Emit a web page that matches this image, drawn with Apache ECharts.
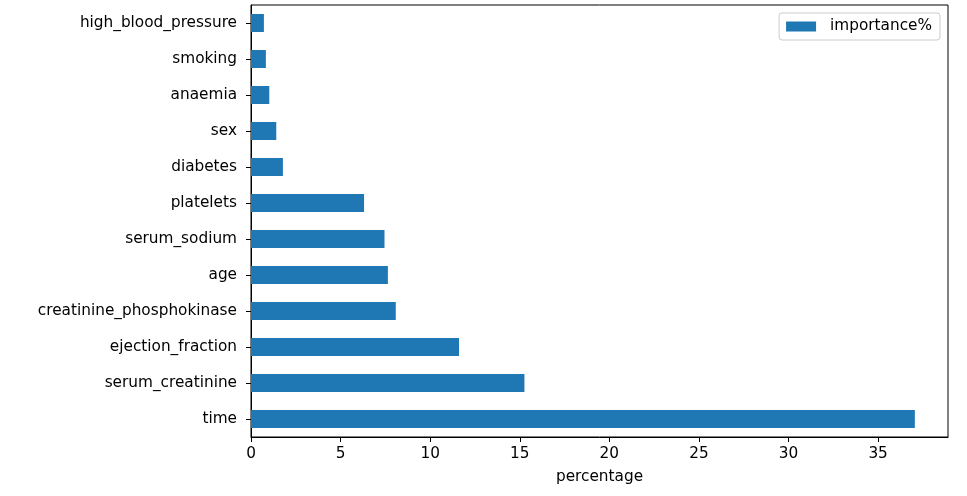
<!DOCTYPE html>
<html>
<head>
<meta charset="utf-8">
<script src="https://cdn.jsdelivr.net/npm/echarts@6/dist/echarts.min.js"></script>
<style>html,body{margin:0;padding:0;background:#fff}#c{width:967px;height:496px}</style>
</head>
<body>
<div id="c"></div>
<script>
const categories = ["time","serum_creatinine","ejection_fraction","creatinine_phosphokinase","age","serum_sodium","platelets","diabetes","sex","anaemia","smoking","high_blood_pressure"];
const importance = [37.05,15.26,11.61,8.08,7.64,7.45,6.31,1.78,1.41,1.02,0.83,0.72];
const xTicks = [0,5,10,15,20,25,30,35];
const seriesName = "importance%";
const xLabel = "percentage";

const chart = echarts.init(document.getElementById('c'), null, {renderer:'canvas'});
const font = "DejaVu Sans";
const fs = 15.3;
chart.setOption({
  animation:false,
  backgroundColor:'#fff',
  textStyle:{fontFamily:font},
  grid:{left:251,right:19,top:5,bottom:59,show:true,borderColor:'#000',borderWidth:1,backgroundColor:'transparent'},
  legend:{
    data:[seriesName], right:27, top:13, orient:'vertical',
    itemWidth:30, itemHeight:10, padding:[6,8,6,7],
    borderColor:'#cccccc', borderWidth:1, borderRadius:3, backgroundColor:'#fff',
    icon:'rect',
    textStyle:{fontFamily:font,fontSize:fs,color:'#000',padding:[0,0,0,9]}
  },
  xAxis:{
    type:'value', min:0, max:38.9,
    name:xLabel, nameLocation:'middle', nameGap:33,
    nameTextStyle:{fontFamily:font,fontSize:fs,color:'#000'},
    axisLine:{show:true,lineStyle:{color:'#000',width:1}},
    axisTick:{show:true,length:5,lineStyle:{color:'#000'},customValues:xTicks},
    axisLabel:{color:'#000',fontSize:fs,fontFamily:font,margin:10,customValues:xTicks},
    splitLine:{show:false}
  },
  yAxis:{
    type:'category', data:categories,
    axisLine:{show:true,lineStyle:{color:'#000',width:1}},
    axisTick:{show:true,length:5,alignWithLabel:true,lineStyle:{color:'#000'}},
    axisLabel:{color:'#000',fontSize:fs,fontFamily:font,margin:14},
    splitLine:{show:false}
  },
  series:[{
    name:seriesName, type:'bar', data:importance, barWidth:'50%',
    itemStyle:{color:'#1f77b4'}
  }]
});
</script>
</body>
</html>
